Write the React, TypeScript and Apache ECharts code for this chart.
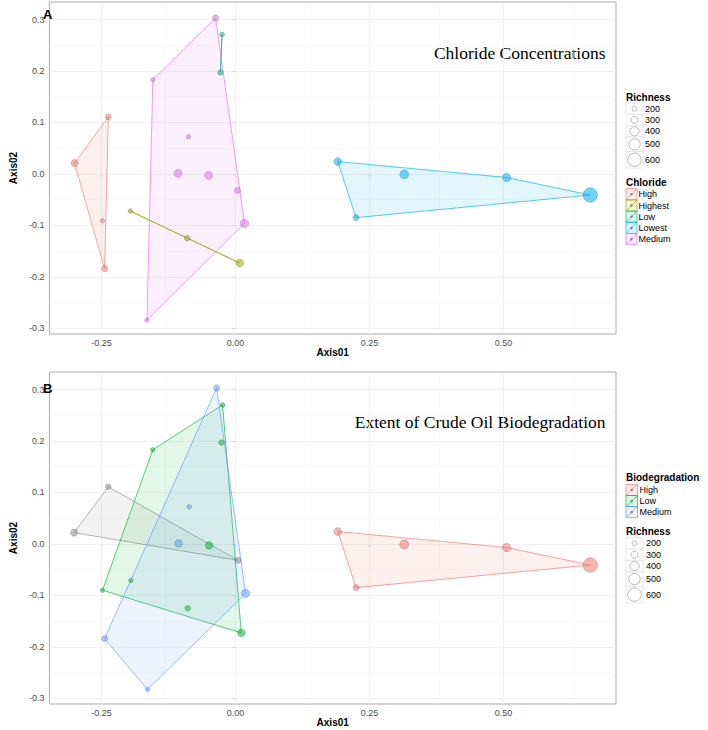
import React, { useEffect, useRef } from "react";
import * as echarts from "echarts";

const F = "Liberation Sans, Arial, sans-serif";
const SERIF = "Liberation Serif, Times New Roman, serif";

// ---- axis ticks ----
const xTicks = [-0.25, 0, 0.25, 0.5];
const xTickLabels = ["-0.25", "0.00", "0.25", "0.50"];
const xMinor = [-0.125, 0.125, 0.375, 0.625];
const yTicks = [-0.3, -0.2, -0.1, 0, 0.1, 0.2, 0.3];
const yTickLabels = ["-0.3", "-0.2", "-0.1", "0.0", "0.1", "0.2", "0.3"];
const yMinor = [-0.25, -0.15, -0.05, 0.05, 0.15, 0.25];
const xRange = [-0.347, 0.71];
const yRange = [-0.311, 0.334];

const richnessBreaks = [200, 300, 400, 500, 600];

// ---- Panel A: Chloride ----  points: [Axis01, Axis02, Richness]
const chlorideLevels = ["High", "Highest", "Low", "Lowest", "Medium"];
const chlorideColors = ["#F8766D", "#A3A500", "#00BF7D", "#00B0F6", "#E76BF3"];
const chlHigh = [[-0.300, 0.021, 300], [-0.237, 0.111, 230], [-0.248, -0.091, 170], [-0.244, -0.184, 250]];
const chlHighest = [[-0.196, -0.072, 180], [-0.090, -0.125, 230], [0.008, -0.173, 330]];
const chlLow = [[-0.025, 0.271, 200], [-0.028, 0.197, 230]];
const chlLowest = [[0.191, 0.024, 330], [0.225, -0.085, 250], [0.315, -0.001, 390], [0.506, -0.007, 360], [0.662, -0.041, 650]];
const chlMedium = [[-0.037, 0.303, 260], [-0.154, 0.183, 180], [-0.0875, 0.072, 180], [-0.107, 0.001, 330], [-0.050, -0.003, 330], [0.004, -0.032, 260], [0.017, -0.096, 360], [-0.165, -0.284, 170]];
const chlorideGroups = [chlHigh, chlHighest, chlLow, chlLowest, chlMedium];

// ---- Panel B: Biodegradation ----
const bioLevels = ["High", "Low", "Medium"];
const bioColors = ["#F8766D", "#00BA38", "#619CFF"];
const bioHigh = [[0.191, 0.024, 330], [0.225, -0.085, 250], [0.315, -0.001, 390], [0.506, -0.007, 360], [0.662, -0.041, 650]];
const bioLow = [[-0.024, 0.270, 200], [-0.026, 0.197, 230], [-0.154, 0.183, 180], [-0.049, -0.003, 330], [-0.195, -0.071, 180], [-0.248, -0.090, 170], [-0.089, -0.125, 230], [0.011, -0.173, 330]];
const bioMedium = [[-0.035, 0.303, 260], [-0.086, 0.072, 180], [-0.106, 0.001, 330], [0.019, -0.096, 360], [-0.244, -0.184, 250], [-0.164, -0.283, 170]];
const bioNA = [[-0.301, 0.022, 300], [-0.237, 0.111, 230], [0.005, -0.032, 260]];
const naColor = "#8F8F8F";
const bioGroups = [bioHigh, bioLow, bioMedium];

function sizeOf(r: number) {
  return 5 + (r - 200) * 0.021;
}

function rgba(hex: string, a: number) {
  const n = parseInt(hex.slice(1), 16);
  return `rgba(${(n >> 16) & 255},${(n >> 8) & 255},${n & 255},${a})`;
}

function hull(pts: number[][]) {
  const p = pts.map((q) => [q[0], q[1]]).sort((a, b) => a[0] - b[0] || a[1] - b[1]);
  if (p.length < 3) return p;
  const cross = (o: number[], a: number[], b: number[]) =>
    (a[0] - o[0]) * (b[1] - o[1]) - (a[1] - o[1]) * (b[0] - o[0]);
  const lower: number[][] = [];
  for (const q of p) {
    while (lower.length >= 2 && cross(lower[lower.length - 2], lower[lower.length - 1], q) <= 0) lower.pop();
    lower.push(q);
  }
  const upper: number[][] = [];
  for (let i = p.length - 1; i >= 0; i--) {
    const q = p[i];
    while (upper.length >= 2 && cross(upper[upper.length - 2], upper[upper.length - 1], q) <= 0) upper.pop();
    upper.push(q);
  }
  upper.pop();
  lower.pop();
  return lower.concat(upper);
}

function nearestIdx(arr: number[], v: number) {
  let best = 0;
  for (let i = 1; i < arr.length; i++) if (Math.abs(arr[i] - v) < Math.abs(arr[best] - v)) best = i;
  return best;
}

function groupSeries(pts: number[][], color: string, gi: number) {
  const h = hull(pts);
  return [
    {
      type: "custom",
      xAxisIndex: gi,
      yAxisIndex: gi,
      z: 2,
      silent: true,
      data: h,
      renderItem: (params: any, api: any) => {
        if (params.dataIndex !== 0) return;
        const points = h.map((q) => api.coord(q));
        return {
          type: "polygon",
          shape: { points },
          style: { fill: rgba(color, 0.11), stroke: rgba(color, 0.9), lineWidth: 0.75 },
        };
      },
    },
    {
      type: "scatter",
      xAxisIndex: gi,
      yAxisIndex: gi,
      z: 3,
      silent: true,
      data: pts,
      symbolSize: (v: number[]) => sizeOf(v[2]),
      itemStyle: { color: rgba(color, 0.55), borderColor: "rgba(60,60,60,0.4)", borderWidth: 0.6, opacity: 1 },
    },
  ];
}

function gridSeries(gi: number) {
  const major = { color: "#EBEBEB", width: 0.7, type: "solid" };
  const minor = { color: "#F5F5F5", width: 0.5, type: "solid" };
  return {
    type: "scatter",
    xAxisIndex: gi,
    yAxisIndex: gi,
    data: [],
    silent: true,
    z: 1,
    markLine: {
      silent: true,
      symbol: ["none", "none"],
      label: { show: false },
      z: 1,
      data: [
        ...xMinor.map((v) => ({ xAxis: v, lineStyle: minor })),
        ...yMinor.map((v) => ({ yAxis: v, lineStyle: minor })),
        ...xTicks.map((v) => ({ xAxis: v, lineStyle: major })),
        ...yTicks.map((v) => ({ yAxis: v, lineStyle: major })),
      ],
    },
  };
}

function xAxis(gi: number) {
  return {
    type: "value",
    gridIndex: gi,
    min: xRange[0],
    max: xRange[1],
    name: "Axis01",
    nameLocation: "middle",
    nameGap: 12,
    nameTextStyle: { fontFamily: F, fontWeight: "bold", fontSize: 10, color: "#000" },
    axisLine: { show: false },
    splitLine: { show: false },
    axisTick: { show: true, customValues: xTicks, length: 3, lineStyle: { color: "#8C8C8C", width: 0.8 } },
    axisLabel: {
      customValues: xTicks,
      formatter: (v: number) => xTickLabels[nearestIdx(xTicks, v)],
      fontFamily: F,
      fontSize: 9,
      color: "#4D4D4D",
      margin: 4,
    },
  };
}

function yAxis(gi: number) {
  return {
    type: "value",
    gridIndex: gi,
    min: yRange[0],
    max: yRange[1],
    name: "Axis02",
    nameLocation: "middle",
    nameGap: 16,
    nameTextStyle: { fontFamily: F, fontWeight: "bold", fontSize: 10, color: "#000" },
    axisLine: { show: false },
    splitLine: { show: false },
    axisTick: { show: true, customValues: yTicks, length: 3, lineStyle: { color: "#8C8C8C", width: 0.8 } },
    axisLabel: {
      customValues: yTicks,
      formatter: (v: number) => yTickLabels[nearestIdx(yTicks, v)],
      fontFamily: F,
      fontSize: 9,
      color: "#4D4D4D",
      margin: 5,
    },
  };
}

function txt(text: string, x: number, y: number, font: string, align = "left", fill = "#000") {
  return {
    type: "text",
    x,
    y,
    silent: true,
    style: { text, font, fill, align, textAlign: align, verticalAlign: "middle", textVerticalAlign: "middle" },
  };
}

function groupLegend(title: string, levels: string[], colors: string[], x: number, titleY: number, top: number, keyW: number, keyH: number, labelX: number) {
  const els: any[] = [txt(title, x, titleY, `bold 10px ${F}`)];
  levels.forEach((lv, i) => {
    const c = colors[i];
    const y = top + i * keyH;
    els.push({ type: "rect", silent: true, shape: { x, y, width: keyW, height: keyH }, style: { fill: rgba(c, 0.12), stroke: c, lineWidth: 0.7 } });
    els.push({ type: "line", silent: true, shape: { x1: x + 0.5, y1: y + keyH - 0.5, x2: x + keyW - 0.5, y2: y + 0.5 }, style: { stroke: c, lineWidth: 0.7 } });
    els.push({ type: "circle", silent: true, shape: { cx: x + keyW / 2, cy: y + keyH / 2, r: 1.3 }, style: { fill: "rgba(90,90,90,0.65)" } });
    els.push(txt(lv, labelX, y + keyH / 2, `9px ${F}`));
  });
  return els;
}

function richLegend(x: number, titleY: number, top: number, keyW: number, heights: number[], labelX: number) {
  const els: any[] = [txt("Richness", x, titleY, `bold 10px ${F}`)];
  let y = top;
  richnessBreaks.forEach((r, i) => {
    const h = heights[i];
    els.push({ type: "rect", silent: true, shape: { x, y, width: keyW, height: h }, style: { fill: "#fff", stroke: "#D6D6D6", lineWidth: 0.6 } });
    els.push({ type: "circle", silent: true, shape: { cx: x + keyW / 2, cy: y + h / 2, r: sizeOf(r) / 2 }, style: { fill: "none", stroke: "#8A8A8A", lineWidth: 0.6 } });
    els.push(txt(String(r), labelX, y + h / 2, `9px ${F}`));
    y += h;
  });
  return els;
}

export default function App() {
  const ref = useRef<HTMLDivElement>(null);
  useEffect(() => {
    if (!ref.current) return;
    const chart = echarts.init(ref.current, null, { renderer: "svg" });
    const series: any[] = [gridSeries(0), gridSeries(1)];
    chlorideGroups.forEach((g, i) => series.push(...groupSeries(g, chlorideColors[i], 0)));
    series.push(...groupSeries(bioNA, naColor, 1));
    bioGroups.forEach((g, i) => series.push(...groupSeries(g, bioColors[i], 1)));

    const richH = [11.3, 11.3, 11.5, 14.5, 16.5];
    const graphic: any[] = [
      txt("A", 43, 14, `bold 13px ${F}`),
      txt("B", 43, 388, `bold 13px ${F}`),
      txt("Chloride Concentrations", 605.5, 52.5, `17.5px ${SERIF}`, "right"),
      txt("Extent of Crude Oil Biodegradation", 605.5, 421.5, `17.5px ${SERIF}`, "right"),
      ...richLegend(626, 97, 103, 17, richH, 645),
      ...groupLegend("Chloride", chlorideLevels, chlorideColors, 626, 182.7, 188.7, 11, 11.2, 638.5),
      ...groupLegend("Biodegradation", bioLevels, bioColors, 626, 477.7, 484.4, 11.5, 11.1, 639.5),
      ...richLegend(626, 531.7, 537.7, 17, richH, 646),
    ];

    chart.setOption({
      animation: false,
      backgroundColor: "#ffffff",
      grid: [
        { left: 33, top: 2, width: 583, height: 332, show: true, borderColor: "#ABABAB", borderWidth: 1, backgroundColor: "transparent", containLabel: false },
        { left: 34, top: 372, width: 582, height: 332, show: true, borderColor: "#ABABAB", borderWidth: 1, backgroundColor: "transparent", containLabel: false },
      ],
      xAxis: [xAxis(0), xAxis(1)],
      yAxis: [yAxis(0), yAxis(1)],
      series,
      graphic,
    });
    return () => chart.dispose();
  }, []);
  return <div ref={ref} style={{ position: "absolute", left: 0, top: 0, width: 708, height: 730, background: "#fff" }} />;
}
